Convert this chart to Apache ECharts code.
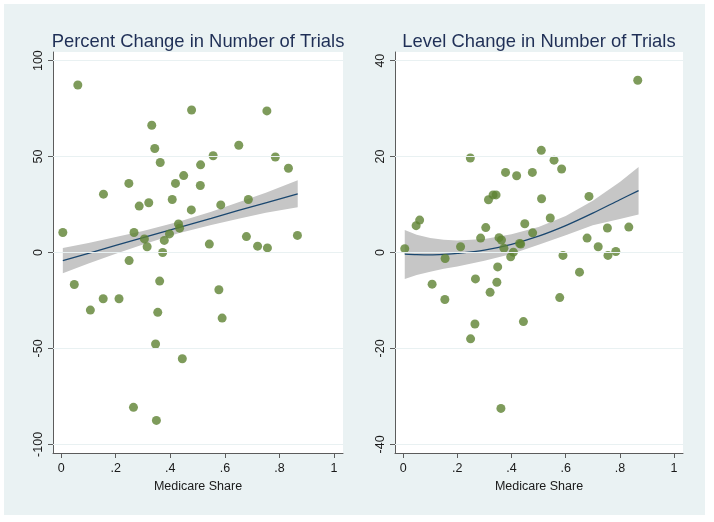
<!DOCTYPE html>
<html>
<head>
<meta charset="utf-8">
<script src="https://cdn.jsdelivr.net/npm/echarts@6/dist/echarts.min.js"></script>
<style>
  html, body { margin: 0; padding: 0; background: #ffffff; }
  #bg { position: absolute; left: 4px; top: 4px; width: 701px; height: 511px; background: #eaf2f3; }
  #chart { position: absolute; left: 0; top: 0; width: 714px; height: 522px; }
</style>
</head>
<body>
<div id="bg"></div>
<div id="chart"></div>
<script>
// ---- Data ----
const medicareShare = [0.006, 0.048, 0.061, 0.107, 0.154, 0.155, 0.212, 0.248, 0.249, 0.265,
  0.267, 0.286, 0.305, 0.315, 0.321, 0.332, 0.343, 0.346, 0.349, 0.354,
  0.361, 0.363, 0.372, 0.378, 0.397, 0.407, 0.419, 0.430, 0.434, 0.444,
  0.449, 0.477, 0.478, 0.510, 0.511, 0.543, 0.557, 0.578, 0.585, 0.590,
  0.651, 0.679, 0.686, 0.720, 0.754, 0.756, 0.785, 0.833, 0.866];
const percentChange = [10.4, -16.7, 87.3, -30.0, -24.1, 30.4, -24.1, 36.0, -4.2, -80.7,
  10.4, 24.2, 7.1, 3.0, 25.9, 66.3, 54.2, -47.7, -87.5, -31.2,
  -14.9, 46.9, 0.0, 6.3, 9.7, 27.6, 36.0, 14.9, 12.7, -55.4,
  40.1, 22.2, 74.3, 34.9, 45.7, 4.4, 50.4, -19.4, 24.8, -34.2,
  55.9, 8.3, 27.6, 3.3, 73.8, 2.4, 49.8, 43.9, 8.9];
const levelChange = [0.8, 5.6, 6.75, -6.6, -9.8, -1.25, 1.2, 19.7, -18.0, -14.9,
  -5.5, 3.0, 5.2, 11.0, -8.3, 12.0, 12.0, -6.2, -3.0, 3.1,
  -32.5, 2.6, 0.9, 16.7, -0.9, 0.07, 16.0, 1.9, 1.75, -14.4,
  6.0, 16.7, 4.1, 21.3, 11.2, 7.2, 19.25, -9.4, 17.4, -0.6,
  -4.1, 3.0, 11.7, 1.2, 5.1, -0.6, 0.2, 5.3, 35.9];

// Fitted line and 95% CI band
const pctFitX   = [0.006, 0.1, 0.2, 0.3, 0.43, 0.55, 0.65, 0.75, 0.867];
const pctFit    = [-4.2, -0.4, 3.7, 7.7, 13.0, 17.8, 21.9, 25.9, 30.6];
const pctUpper  = [2.4, 4.9, 8.1, 11.2, 16.0, 21.3, 26.2, 31.1, 37.6];
const pctLower  = [-10.8, -5.7, -0.7, 4.2, 10.0, 14.3, 17.6, 20.7, 23.6];

const lvlFitX   = [0.006, 0.05, 0.1, 0.15, 0.2, 0.3, 0.4, 0.5, 0.6, 0.7, 0.8, 0.869];
const lvlFit    = [-0.35, -0.45, -0.5, -0.4, -0.2, 0.5, 1.7, 3.4, 5.6, 8.2, 11.0, 12.9];
const lvlUpper  = [4.7, 3.7, 3.0, 2.65, 2.5, 2.8, 3.8, 5.3, 7.6, 10.8, 14.7, 17.8];
const lvlLower  = [-5.5, -4.7, -4.0, -3.4, -2.9, -1.7, -0.3, 1.6, 3.6, 5.7, 7.0, 7.9];

// Tick labels
const xTicks = [0, 0.2, 0.4, 0.6, 0.8, 1];
const xTickLabels = ['0', '.2', '.4', '.6', '.8', '1'];
const pctTicks = [-100, -50, 0, 50, 100];
const lvlTicks = [-40, -20, 0, 20, 40];

const titles = ['Percent Change in Number of Trials', 'Level Change in Number of Trials'];
const xName = 'Medicare Share';

// ---- Chart ----
const chart = echarts.init(document.getElementById('chart'), null, { renderer: 'canvas' });

const axisColor = '#5c5c5c';
const txtColor = '#1a1a1a';
const greenPt = '#5e8232';
const navy = '#1a476f';
const bandGray = '#c6c6c6';
const gridLineColor = '#e9f1f2';
const sansFont = 'Liberation Sans';

function pairs(xs, ys) { return xs.map((x, i) => [x, ys[i]]); }

function xAxisFor(idx) {
  return {
    gridIndex: idx, type: 'value', min: -0.03, max: 1.033,
    name: xName, nameLocation: 'middle', nameGap: 21,
    nameTextStyle: { fontFamily: sansFont, fontSize: 12.5, color: txtColor },
    axisLine: { onZero: false, lineStyle: { color: axisColor, width: 1 } },
    axisTick: { show: true, inside: false, length: 5, customValues: xTicks, lineStyle: { color: axisColor } },
    axisLabel: {
      customValues: xTicks, margin: 9, fontFamily: sansFont, fontSize: 12.5, color: txtColor,
      formatter: v => { const k = xTicks.findIndex(t => Math.abs(t - v) < 1e-9); return k >= 0 ? xTickLabels[k] : ''; }
    },
    splitLine: { show: false }
  };
}
function yAxisFor(idx, lim, ticks) {
  return {
    gridIndex: idx, type: 'value', min: -lim, max: lim,
    axisLine: { show: true, onZero: false, lineStyle: { color: axisColor, width: 1 } },
    axisTick: { show: true, inside: false, length: 5, customValues: ticks, lineStyle: { color: axisColor } },
    axisLabel: {
      customValues: ticks, rotate: 90, margin: 8, fontFamily: sansFont, fontSize: 12.5, color: txtColor,
      formatter: v => String(v)
    },
    splitLine: { show: false }
  };
}
function gridSeries(idx, ticks) {
  return {
    type: 'line', xAxisIndex: idx, yAxisIndex: idx, data: [], z: 0, silent: true,
    markLine: {
      silent: true, symbol: 'none', label: { show: false }, animation: false,
      lineStyle: { color: gridLineColor, width: 1, type: 'solid' },
      data: ticks.map(t => ({ yAxis: t }))
    }
  };
}
function bandSeries(idx, xs, lo, hi) {
  return {
    type: 'custom', xAxisIndex: idx, yAxisIndex: idx, z: 1, silent: true,
    data: xs.map((x, i) => [x, lo[i], hi[i]]),
    encode: { x: 0, y: [1, 2] },
    renderItem: (params, api) => {
      if (params.dataIndex !== 0) return null;
      const pts = [];
      for (let i = 0; i < xs.length; i++) pts.push(api.coord([xs[i], hi[i]]));
      for (let i = xs.length - 1; i >= 0; i--) pts.push(api.coord([xs[i], lo[i]]));
      return { type: 'polygon', shape: { points: pts }, style: { fill: bandGray, stroke: null } };
    }
  };
}

const titleStyle = { fontFamily: sansFont, fontSize: 18.4, fontWeight: 'normal', color: '#1f2f56' };
const option = {
  animation: false,
  backgroundColor: 'transparent',
  title: [
    { text: titles[0], left: 193, top: 28, textAlign: 'center', textStyle: titleStyle },
    { text: titles[1], left: 534, top: 28, textAlign: 'center', textStyle: titleStyle }
  ],
  grid: [
    { left: 53, top: 52, width: 290, height: 401, show: true, backgroundColor: '#ffffff', borderWidth: 0 },
    { left: 395, top: 52, width: 288, height: 401, show: true, backgroundColor: '#ffffff', borderWidth: 0 }
  ],
  xAxis: [xAxisFor(0), xAxisFor(1)],
  yAxis: [yAxisFor(0, 104.5, pctTicks), yAxisFor(1, 41.8, lvlTicks)],
  series: [
    gridSeries(0, pctTicks),
    bandSeries(0, pctFitX, pctLower, pctUpper),
    { type: 'line', xAxisIndex: 0, yAxisIndex: 0, data: pairs(pctFitX, pctFit), symbol: 'none',
      lineStyle: { color: navy, width: 1.3 }, z: 3, silent: true },
    { type: 'scatter', xAxisIndex: 0, yAxisIndex: 0, data: pairs(medicareShare, percentChange),
      symbol: 'circle', symbolSize: 9, itemStyle: { color: greenPt }, z: 4 },

    gridSeries(1, lvlTicks),
    bandSeries(1, lvlFitX, lvlLower, lvlUpper),
    { type: 'line', xAxisIndex: 1, yAxisIndex: 1, data: pairs(lvlFitX, lvlFit), symbol: 'none', smooth: 0.3,
      lineStyle: { color: navy, width: 1.3 }, z: 3, silent: true },
    { type: 'scatter', xAxisIndex: 1, yAxisIndex: 1, data: pairs(medicareShare, levelChange),
      symbol: 'circle', symbolSize: 9, itemStyle: { color: greenPt }, z: 4 }
  ]
};
chart.setOption(option);
</script>
</body>
</html>
